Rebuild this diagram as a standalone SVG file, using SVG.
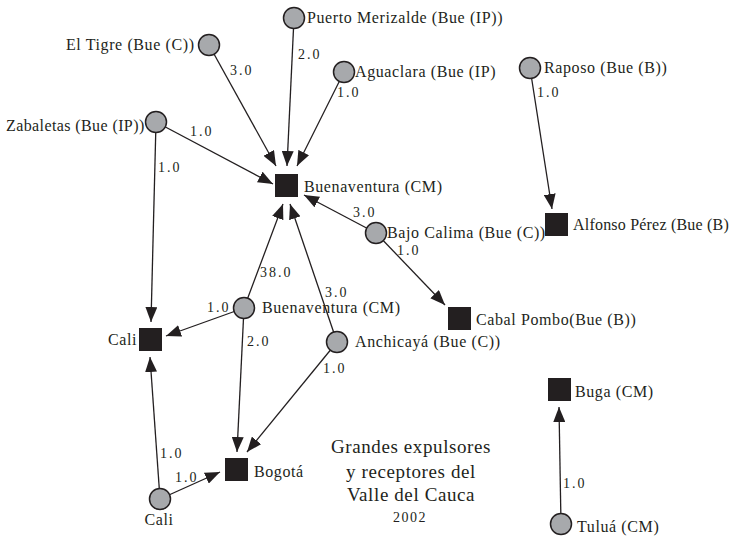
<svg xmlns="http://www.w3.org/2000/svg" width="733" height="539" viewBox="0 0 733 539">
<style>
.lbl{font-family:"Liberation Serif","Times New Roman","DejaVu Serif",serif;font-size:16px;letter-spacing:0.6px;fill:#231f20}
.w{font-family:"Liberation Serif","Times New Roman","DejaVu Serif",serif;font-size:14px;letter-spacing:2px;fill:#231f20}
.ttl{font-family:"Liberation Serif","Times New Roman","DejaVu Serif",serif;font-size:19px;letter-spacing:0.6px;fill:#231f20;text-anchor:middle}
.c{fill:#a7a9ac;stroke:#231f20;stroke-width:1.5}
.s{fill:#231f20}
.e{stroke:#231f20;stroke-width:1.3;fill:none;marker-end:url(#ah)}
</style>
<defs>
<marker id="ah" markerUnits="userSpaceOnUse" markerWidth="15" markerHeight="12" refX="15" refY="6" orient="auto" viewBox="0 0 15 12">
<path d="M0,0 L15,6 L0,12 z" fill="#231f20"/>
</marker>
</defs>
<rect width="733" height="539" fill="#ffffff"/>
<g id="connectors">
<line class="e" x1="209" y1="45" x2="276" y2="166"/>
<line class="e" x1="294" y1="18" x2="287" y2="166"/>
<line class="e" x1="344" y1="72" x2="297" y2="166"/>
<line class="e" x1="156" y1="122" x2="273" y2="184"/>
<line class="e" x1="156" y1="122" x2="151" y2="322"/>
<line class="e" x1="376" y1="233" x2="304" y2="195"/>
<line class="e" x1="376" y1="233" x2="445" y2="305"/>
<line class="e" x1="530" y1="68" x2="552" y2="209"/>
<line class="e" x1="244" y1="308" x2="283" y2="204"/>
<line class="e" x1="337" y1="342" x2="290" y2="204"/>
<line class="e" x1="244" y1="308" x2="166" y2="336"/>
<line class="e" x1="244" y1="308" x2="237" y2="452"/>
<line class="e" x1="337" y1="342" x2="247" y2="452"/>
<line class="e" x1="160" y1="499" x2="150" y2="357"/>
<line class="e" x1="160" y1="499" x2="220" y2="472"/>
<line class="e" x1="561" y1="524" x2="559" y2="407"/>
<text class="w" x="230" y="75">3.0</text>
<text class="w" x="298" y="59">2.0</text>
<text class="w" x="337" y="97">1.0</text>
<text class="w" x="190" y="136">1.0</text>
<text class="w" x="158" y="172">1.0</text>
<text class="w" x="353" y="217">3.0</text>
<text class="w" x="397" y="255">1.0</text>
<text class="w" x="537" y="97">1.0</text>
<text class="w" x="260" y="277">38.0</text>
<text class="w" x="325" y="297">3.0</text>
<text class="w" x="207" y="312">1.0</text>
<text class="w" x="247" y="346">2.0</text>
<text class="w" x="323" y="373">1.0</text>
<text class="w" x="160" y="458">1.0</text>
<text class="w" x="175" y="482">1.0</text>
<text class="w" x="563" y="488">1.0</text>
</g>
<g id="n-puerto"><circle class="c" cx="294" cy="18" r="10.5"/><text class="lbl" x="307" y="23">Puerto Merizalde (Bue (IP))</text></g>
<g id="n-tigre"><circle class="c" cx="209" cy="45" r="10.5"/><text class="lbl" x="66" y="50">El Tigre (Bue (C))</text></g>
<g id="n-aguaclara"><circle class="c" cx="344" cy="72" r="10.5"/><text class="lbl" x="355" y="77">Aguaclara (Bue (IP)</text></g>
<g id="n-zabaletas"><circle class="c" cx="156" cy="122" r="10.5"/><text class="lbl" x="6" y="131" style="letter-spacing:0.4px">Zabaletas (Bue (IP))</text></g>
<g id="n-buenaventura-r"><rect class="s" x="275" y="174" width="23" height="23"/><text class="lbl" x="304" y="192">Buenaventura (CM)</text></g>
<g id="n-raposo"><circle class="c" cx="530" cy="68" r="10.5"/><text class="lbl" x="544" y="73">Raposo (Bue (B))</text></g>
<g id="n-alfonso"><rect class="s" x="545" y="213" width="23" height="23"/><text class="lbl" x="573" y="230" style="letter-spacing:0.2px">Alfonso Pérez (Bue (B)</text></g>
<g id="n-bajocalima"><circle class="c" cx="376" cy="233" r="10.5"/><text class="lbl" x="387" y="238">Bajo Calima (Bue (C))</text></g>
<g id="n-cabal"><rect class="s" x="448" y="307" width="23" height="23"/><text class="lbl" x="476" y="325">Cabal Pombo(Bue (B))</text></g>
<g id="n-buenaventura-e"><circle class="c" cx="244" cy="308" r="10.5"/><text class="lbl" x="262" y="313">Buenaventura (CM)</text></g>
<g id="n-cali-r"><rect class="s" x="139" y="328" width="23" height="23"/><text class="lbl" x="108" y="345">Cali</text></g>
<g id="n-anchicaya"><circle class="c" cx="337" cy="342" r="10.5"/><text class="lbl" x="355" y="347">Anchicayá (Bue (C))</text></g>
<g id="n-bogota"><rect class="s" x="225" y="458" width="23" height="23"/><text class="lbl" x="254" y="477">Bogotá</text></g>
<g id="n-cali-e"><circle class="c" cx="160" cy="499" r="10.5"/><text class="lbl" x="159" y="525" text-anchor="middle">Cali</text></g>
<g id="n-buga"><rect class="s" x="548" y="378" width="23" height="23"/><text class="lbl" x="575" y="397">Buga (CM)</text></g>
<g id="n-tulua"><circle class="c" cx="561" cy="524" r="10.5"/><text class="lbl" x="577" y="532">Tuluá (CM)</text></g>
<g id="title">
<text class="ttl" x="411" y="453">Grandes expulsores</text>
<text class="ttl" x="411" y="478">y receptores del</text>
<text class="ttl" x="411" y="501">Valle del Cauca</text>
<text class="ttl" x="410" y="522" style="font-size:14px;letter-spacing:1.5px">2002</text>
</g>
</svg>
